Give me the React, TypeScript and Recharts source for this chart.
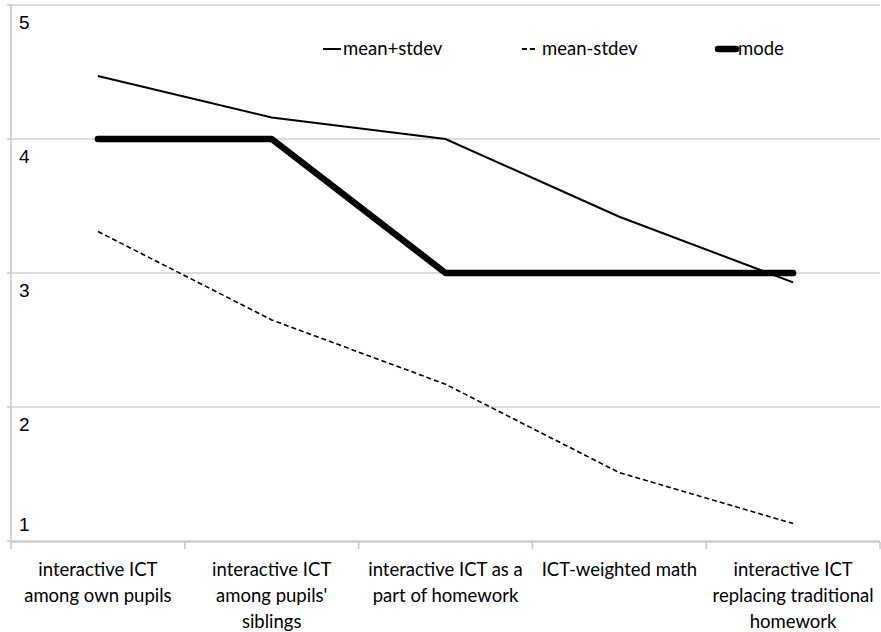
import React from "react";
import { LineChart, Line, XAxis, YAxis, CartesianGrid, Legend } from "recharts";

const categoryLines: string[][] = [
  ["interactive ICT", "among own pupils"],
  ["interactive ICT", "among pupils'", "siblings"],
  ["interactive ICT as a", "part of homework"],
  ["ICT-weighted math"],
  ["interactive ICT", "replacing traditional", "homework"],
];
const meanPlusStdev = [4.47, 4.16, 4.0, 3.42, 2.93];
const meanMinusStdev = [3.31, 2.65, 2.17, 1.51, 1.13];
const mode = [4, 4, 3, 3, 3];
const yTicks = [1, 2, 3, 4, 5];
const seriesNames = ["mean+stdev", "mean-stdev", "mode"];

const data = categoryLines.map((c, i) => ({
  i,
  plus: meanPlusStdev[i],
  minus: meanMinusStdev[i],
  mode: mode[i],
}));

const boundaryTicks = [-0.5, 0.5, 1.5, 2.5, 3.5, 4.5];
const centerTicks = [0, 1, 2, 3, 4];

const FONT_LABEL = "Lato, 'Open Sans', sans-serif";
const FONT_NUM = "'Liberation Sans', Arial, sans-serif";

const EmptyTick = () => <g />;

const CategoryTick = (props: any) => {
  const { x, y, payload } = props;
  const lines = categoryLines[payload.value] || [];
  return (
    <g>
      {lines.map((l, k) => (
        <text
          key={k}
          x={x}
          y={y + 33 + k * 26}
          textAnchor="middle"
          fontFamily={FONT_LABEL}
          fontSize={18.5}
          fill="#000"
        >
          {l}
        </text>
      ))}
    </g>
  );
};

const YTick = (props: any) => {
  const { x, y, payload } = props;
  const dy = payload.value === 1 ? -10 : 24;
  return (
    <text x={x + 14} y={y + dy} textAnchor="start" fontFamily={FONT_NUM} fontSize={19} fill="#000">
      {payload.value}
    </text>
  );
};

const LegendContent = () => {
  const items = [
    { name: seriesNames[0], x1: 323, x2: 341, tx: 343, w: 2, dash: undefined as string | undefined },
    { name: seriesNames[1], x1: 522, x2: 538, tx: 542, w: 2, dash: "5 3" },
    { name: seriesNames[2], x1: 718, x2: 736, tx: 738, w: 6.5, dash: undefined },
  ];
  return (
    <svg width={881} height={24} style={{ display: "block" }}>
      {items.map((it) => (
        <g key={it.name}>
          <line
            x1={it.x1}
            x2={it.x2}
            y1={12}
            y2={12}
            stroke="#000"
            strokeWidth={it.w}
            strokeDasharray={it.dash}
            strokeLinecap={it.w > 3 ? "round" : "butt"}
          />
          <text x={it.tx} y={18} fontFamily={FONT_LABEL} fontSize={18.5} fill="#000">
            {it.name}
          </text>
        </g>
      ))}
    </svg>
  );
};

export default function App() {
  return (
    <div style={{ position: "absolute", left: 0, top: 0, width: 881, height: 632, background: "#fff" }}>
      <LineChart width={881} height={632} data={data} margin={{ top: 5, right: 1, left: 10, bottom: 89 }}>
        <CartesianGrid horizontal vertical={false} stroke="#d0d0d0" strokeWidth={1.5} />
        <XAxis
          xAxisId="x"
          dataKey="i"
          type="number"
          domain={[-0.5, 4.5]}
          ticks={boundaryTicks}
          tick={EmptyTick}
          tickSize={7}
          height={1}
          interval={0}
          axisLine={{ stroke: "#c8c8c8", strokeWidth: 1.5 }}
          tickLine={{ stroke: "#c8c8c8", strokeWidth: 1.5 }}
          allowDataOverflow
        />
        <XAxis
          xAxisId="lbl"
          dataKey="i"
          type="number"
          domain={[-0.5, 4.5]}
          ticks={centerTicks}
          tick={CategoryTick}
          axisLine={false}
          tickLine={false}
          tickSize={0}
          height={1}
          interval={0}
        />
        <YAxis
          type="number"
          domain={[1, 5]}
          ticks={yTicks}
          width={1}
          tick={YTick}
          tickSize={4}
          interval={0}
          axisLine={{ stroke: "#c8c8c8", strokeWidth: 1.5 }}
          tickLine={{ stroke: "#c8c8c8", strokeWidth: 1.5 }}
          allowDataOverflow
        />
        <Legend
          layout="horizontal"
          verticalAlign="middle"
          align="center"
          content={<LegendContent />}
          wrapperStyle={{ position: "absolute", top: 37, left: 0, width: 881, height: 24 }}
        />
        <Line
          xAxisId="x"
          dataKey="plus"
          name={seriesNames[0]}
          stroke="#000"
          strokeWidth={2}
          dot={false}
          isAnimationActive={false}
        />
        <Line
          xAxisId="x"
          dataKey="minus"
          name={seriesNames[1]}
          stroke="#000"
          strokeWidth={1.6}
          strokeDasharray="5 3"
          dot={false}
          isAnimationActive={false}
        />
        <Line
          xAxisId="x"
          dataKey="mode"
          name={seriesNames[2]}
          stroke="#000"
          strokeWidth={6.5}
          strokeLinecap="round"
          strokeLinejoin="round"
          dot={false}
          isAnimationActive={false}
        />
      </LineChart>
    </div>
  );
}
